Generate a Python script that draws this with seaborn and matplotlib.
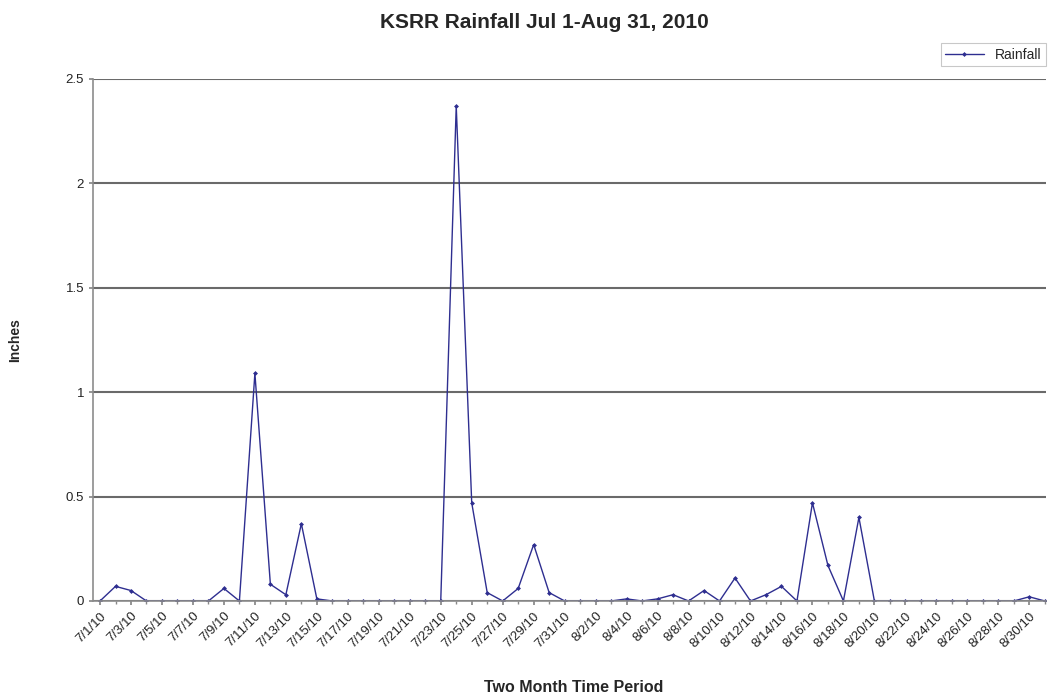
import matplotlib
matplotlib.use("Agg")
import matplotlib.pyplot as plt
import pandas as pd
import seaborn as sns

# daily rainfall (inches), Jul 1 - Aug 31, 2010
july = [0, 0.07, 0.05, 0, 0, 0, 0, 0, 0.06, 0, 1.09, 0.08, 0.03, 0.37, 0.01, 0,
        0, 0, 0, 0, 0, 0, 0, 2.37, 0.47, 0.04, 0, 0.06, 0.27, 0.04, 0]
august = [0, 0, 0, 0.01, 0, 0.01, 0.03, 0, 0.05, 0, 0.11, 0, 0.03, 0.07, 0, 0.47,
          0.17, 0, 0.40, 0, 0, 0, 0, 0, 0, 0, 0, 0, 0, 0.02, 0]
dates = [f"7/{d}/10" for d in range(1, 32)] + [f"8/{d}/10" for d in range(1, 32)]
y_ticks = [0, 0.5, 1, 1.5, 2, 2.5]

frame = pd.DataFrame({"date": dates, "inches": july + august})
frame["day"] = range(len(frame))

sns.set_theme(style="white")
plt.rcParams["font.family"] = ["Liberation Sans", "DejaVu Sans"]

figure = plt.figure(figsize=(10.49, 6.98), dpi=100)
axis = figure.add_axes([0.0887, 0.139, 0.908, 0.748])

sns.lineplot(data=frame, x="day", y="inches", ax=axis, color="#2e2e90", linewidth=1.0,
             marker="D", markersize=2.5, markeredgewidth=0, label="Rainfall")

axis.set_ylim(0, 2.5)
axis.set_xlim(-0.45, 61.05)
axis.set_yticks(y_ticks)
axis.set_yticklabels(["0", "0.5", "1", "1.5", "2", "2.5"], fontsize=9.5, color="#222222")
axis.set_xticks(frame["day"][::2])
axis.set_xticklabels(frame["date"][::2], rotation=45, ha="right", rotation_mode="anchor",
                     fontsize=9.5, color="#222222")
axis.set_xticks(frame["day"], minor=True)
axis.tick_params(axis="both", which="both", length=3, color="#888888", direction="out",
                 bottom=True, left=True)
axis.tick_params(axis="x", which="minor", length=2)

axis.grid(axis="y", color="#6a6a6a", linewidth=1.5)
axis.set_axisbelow(True)
for side in ["top", "right"]:
    axis.spines[side].set_visible(False)
for side in ["left", "bottom"]:
    axis.spines[side].set_color("#8c8c8c")
    axis.spines[side].set_linewidth(1.2)

axis.set_xlabel("Two Month Time Period", fontsize=11.5, fontweight="bold")
axis.xaxis.set_label_coords(0.505, -0.152)
axis.set_ylabel("Inches", fontsize=10, fontweight="bold")
axis.yaxis.set_label_coords(-0.074, 0.5)
figure.suptitle("KSRR Rainfall Jul 1-Aug 31, 2010", fontsize=15, fontweight="bold",
                x=0.519, y=0.982)

legend = axis.legend(loc="upper right", bbox_to_anchor=(1.0, 1.068), fontsize=10,
                     frameon=True, fancybox=False, handlelength=2.8, borderpad=0.3,
                     borderaxespad=0.0)
legend.get_frame().set_edgecolor("#bbbbbb")
legend.get_frame().set_linewidth(0.8)

figure.savefig("out.png", dpi=100)
plt.close(figure)
